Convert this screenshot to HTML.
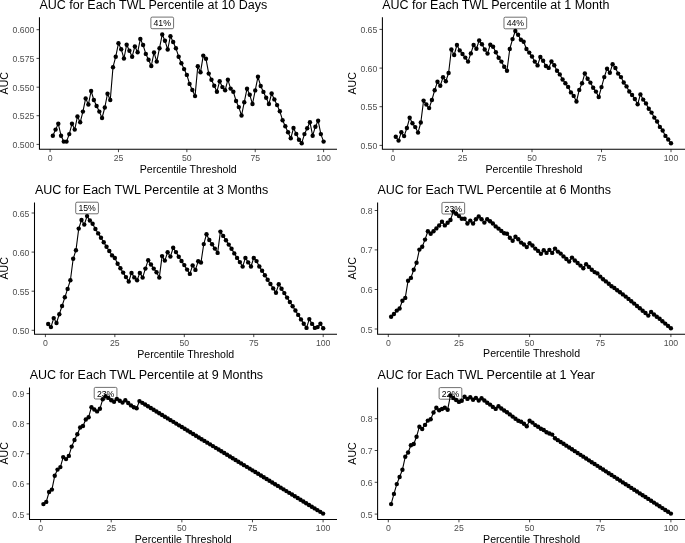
<!DOCTYPE html>
<html><head><meta charset="utf-8"><title>AUC for Each TWL Percentile</title>
<style>
html,body{margin:0;padding:0;background:#fff;overflow:hidden}
svg{display:block;will-change:transform}
text{font-family:"Liberation Sans", sans-serif}
</style></head>
<body>
<svg width="685" height="543" viewBox="0 0 685 543" font-family='"Liberation Sans", sans-serif'>
<rect width="685" height="543" fill="#fff"/>
<g><text x="39.4" y="8.76" font-size="12.5" fill="#000">AUC for Each TWL Percentile at 10 Days</text><line x1="36.55" y1="144.4" x2="39.45" y2="144.4" stroke="#333333" stroke-width="0.9"/><text x="34.35" y="147.9" font-size="8.7" fill="#4d4d4d" text-anchor="end">0.500</text><line x1="36.55" y1="115.7" x2="39.45" y2="115.7" stroke="#333333" stroke-width="0.9"/><text x="34.35" y="119.2" font-size="8.7" fill="#4d4d4d" text-anchor="end">0.525</text><line x1="36.55" y1="87.2" x2="39.45" y2="87.2" stroke="#333333" stroke-width="0.9"/><text x="34.35" y="90.7" font-size="8.7" fill="#4d4d4d" text-anchor="end">0.550</text><line x1="36.55" y1="58.4" x2="39.45" y2="58.4" stroke="#333333" stroke-width="0.9"/><text x="34.35" y="61.9" font-size="8.7" fill="#4d4d4d" text-anchor="end">0.575</text><line x1="36.55" y1="29.7" x2="39.45" y2="29.7" stroke="#333333" stroke-width="0.9"/><text x="34.35" y="33.2" font-size="8.7" fill="#4d4d4d" text-anchor="end">0.600</text><line x1="50.1" y1="149.25" x2="50.1" y2="152.15" stroke="#333333" stroke-width="0.9"/><text x="50.1" y="160.95" font-size="8.7" fill="#4d4d4d" text-anchor="middle">0</text><line x1="118.47" y1="149.25" x2="118.47" y2="152.15" stroke="#333333" stroke-width="0.9"/><text x="118.47" y="160.95" font-size="8.7" fill="#4d4d4d" text-anchor="middle">25</text><line x1="186.85" y1="149.25" x2="186.85" y2="152.15" stroke="#333333" stroke-width="0.9"/><text x="186.85" y="160.95" font-size="8.7" fill="#4d4d4d" text-anchor="middle">50</text><line x1="255.22" y1="149.25" x2="255.22" y2="152.15" stroke="#333333" stroke-width="0.9"/><text x="255.22" y="160.95" font-size="8.7" fill="#4d4d4d" text-anchor="middle">75</text><line x1="323.6" y1="149.25" x2="323.6" y2="152.15" stroke="#333333" stroke-width="0.9"/><text x="323.6" y="160.95" font-size="8.7" fill="#4d4d4d" text-anchor="middle">100</text><path d="M39.45 17.2V149.25H337" fill="none" stroke="#000" stroke-width="1.05" stroke-linejoin="miter" stroke-linecap="butt"/><text x="188.22" y="172.55" font-size="10.6" fill="#000" text-anchor="middle">Percentile Threshold</text><text transform="translate(7.9 83.22) rotate(-90)" font-size="10.6" fill="#000" text-anchor="middle">AUC</text><rect x="150.88" y="17.1" width="22.7" height="11.6" rx="1.3" ry="1.3" fill="#fff" stroke="#333" stroke-width="0.7"/><text transform="translate(162.23 26.3) scale(1 1.08)" font-size="8.7" fill="#000" text-anchor="middle">41%</text><path d="M52.84 135.7 L55.57 129.6 L58.3 123.8 L61.04 135.7 L63.77 141.6 L66.51 141.6 L69.25 134.1 L71.98 123.8 L74.72 129.6 L77.45 116.5 L80.19 122.3 L82.92 111.6 L85.66 98.4 L88.39 104.5 L91.12 91 L93.86 100 L96.59 106 L99.33 111.6 L102.06 118 L104.8 107.5 L107.53 93.7 L110.27 100 L113 67.2 L115.74 56.7 L118.47 43.3 L121.21 49.2 L123.94 58.5 L126.68 44.7 L129.41 50.8 L132.15 56.7 L134.88 46.4 L137.62 52.3 L140.35 38.9 L143.09 45 L145.82 53.9 L148.56 59.8 L151.29 66 L154.03 52.5 L156.76 61.6 L159.5 48.2 L162.23 34.5 L164.97 40.7 L167.7 49.5 L170.44 36.2 L173.17 42 L175.91 48.2 L178.64 56.7 L181.38 63.2 L184.11 69.1 L186.85 74.9 L189.58 83.9 L192.32 90 L195.05 96.1 L197.79 66.2 L200.52 72.2 L203.26 55.6 L205.99 58.8 L208.73 73.6 L211.46 79.7 L214.2 85.7 L216.93 91.7 L219.67 81.2 L222.4 87.1 L225.14 90.3 L227.88 79.7 L230.61 88.6 L233.34 91.7 L236.08 101 L238.81 107.1 L241.55 115.5 L244.28 102.2 L247.02 88.7 L249.75 94.8 L252.49 104 L255.22 90.4 L257.96 76.8 L260.69 86 L263.43 91.9 L266.17 97.8 L268.9 104 L271.63 93.5 L274.37 99.4 L277.11 105.1 L279.84 111.3 L282.57 120.2 L285.31 126.2 L288.05 132.3 L290.78 138.3 L293.51 128 L296.25 133.9 L298.99 139.8 L301.72 143.2 L304.45 134.1 L307.19 128.3 L309.93 122.2 L312.66 135.7 L315.4 126.7 L318.13 120.7 L320.87 134.1 L323.6 141.6" fill="none" stroke="#000" stroke-width="1.1" stroke-linejoin="round"/><g fill="#000"><circle cx="52.84" cy="135.7" r="2.2"/><circle cx="55.57" cy="129.6" r="2.2"/><circle cx="58.3" cy="123.8" r="2.2"/><circle cx="61.04" cy="135.7" r="2.2"/><circle cx="63.77" cy="141.6" r="2.2"/><circle cx="66.51" cy="141.6" r="2.2"/><circle cx="69.25" cy="134.1" r="2.2"/><circle cx="71.98" cy="123.8" r="2.2"/><circle cx="74.72" cy="129.6" r="2.2"/><circle cx="77.45" cy="116.5" r="2.2"/><circle cx="80.19" cy="122.3" r="2.2"/><circle cx="82.92" cy="111.6" r="2.2"/><circle cx="85.66" cy="98.4" r="2.2"/><circle cx="88.39" cy="104.5" r="2.2"/><circle cx="91.12" cy="91" r="2.2"/><circle cx="93.86" cy="100" r="2.2"/><circle cx="96.59" cy="106" r="2.2"/><circle cx="99.33" cy="111.6" r="2.2"/><circle cx="102.06" cy="118" r="2.2"/><circle cx="104.8" cy="107.5" r="2.2"/><circle cx="107.53" cy="93.7" r="2.2"/><circle cx="110.27" cy="100" r="2.2"/><circle cx="113" cy="67.2" r="2.2"/><circle cx="115.74" cy="56.7" r="2.2"/><circle cx="118.47" cy="43.3" r="2.2"/><circle cx="121.21" cy="49.2" r="2.2"/><circle cx="123.94" cy="58.5" r="2.2"/><circle cx="126.68" cy="44.7" r="2.2"/><circle cx="129.41" cy="50.8" r="2.2"/><circle cx="132.15" cy="56.7" r="2.2"/><circle cx="134.88" cy="46.4" r="2.2"/><circle cx="137.62" cy="52.3" r="2.2"/><circle cx="140.35" cy="38.9" r="2.2"/><circle cx="143.09" cy="45" r="2.2"/><circle cx="145.82" cy="53.9" r="2.2"/><circle cx="148.56" cy="59.8" r="2.2"/><circle cx="151.29" cy="66" r="2.2"/><circle cx="154.03" cy="52.5" r="2.2"/><circle cx="156.76" cy="61.6" r="2.2"/><circle cx="159.5" cy="48.2" r="2.2"/><circle cx="162.23" cy="34.5" r="2.2"/><circle cx="164.97" cy="40.7" r="2.2"/><circle cx="167.7" cy="49.5" r="2.2"/><circle cx="170.44" cy="36.2" r="2.2"/><circle cx="173.17" cy="42" r="2.2"/><circle cx="175.91" cy="48.2" r="2.2"/><circle cx="178.64" cy="56.7" r="2.2"/><circle cx="181.38" cy="63.2" r="2.2"/><circle cx="184.11" cy="69.1" r="2.2"/><circle cx="186.85" cy="74.9" r="2.2"/><circle cx="189.58" cy="83.9" r="2.2"/><circle cx="192.32" cy="90" r="2.2"/><circle cx="195.05" cy="96.1" r="2.2"/><circle cx="197.79" cy="66.2" r="2.2"/><circle cx="200.52" cy="72.2" r="2.2"/><circle cx="203.26" cy="55.6" r="2.2"/><circle cx="205.99" cy="58.8" r="2.2"/><circle cx="208.73" cy="73.6" r="2.2"/><circle cx="211.46" cy="79.7" r="2.2"/><circle cx="214.2" cy="85.7" r="2.2"/><circle cx="216.93" cy="91.7" r="2.2"/><circle cx="219.67" cy="81.2" r="2.2"/><circle cx="222.4" cy="87.1" r="2.2"/><circle cx="225.14" cy="90.3" r="2.2"/><circle cx="227.88" cy="79.7" r="2.2"/><circle cx="230.61" cy="88.6" r="2.2"/><circle cx="233.34" cy="91.7" r="2.2"/><circle cx="236.08" cy="101" r="2.2"/><circle cx="238.81" cy="107.1" r="2.2"/><circle cx="241.55" cy="115.5" r="2.2"/><circle cx="244.28" cy="102.2" r="2.2"/><circle cx="247.02" cy="88.7" r="2.2"/><circle cx="249.75" cy="94.8" r="2.2"/><circle cx="252.49" cy="104" r="2.2"/><circle cx="255.22" cy="90.4" r="2.2"/><circle cx="257.96" cy="76.8" r="2.2"/><circle cx="260.69" cy="86" r="2.2"/><circle cx="263.43" cy="91.9" r="2.2"/><circle cx="266.17" cy="97.8" r="2.2"/><circle cx="268.9" cy="104" r="2.2"/><circle cx="271.63" cy="93.5" r="2.2"/><circle cx="274.37" cy="99.4" r="2.2"/><circle cx="277.11" cy="105.1" r="2.2"/><circle cx="279.84" cy="111.3" r="2.2"/><circle cx="282.57" cy="120.2" r="2.2"/><circle cx="285.31" cy="126.2" r="2.2"/><circle cx="288.05" cy="132.3" r="2.2"/><circle cx="290.78" cy="138.3" r="2.2"/><circle cx="293.51" cy="128" r="2.2"/><circle cx="296.25" cy="133.9" r="2.2"/><circle cx="298.99" cy="139.8" r="2.2"/><circle cx="301.72" cy="143.2" r="2.2"/><circle cx="304.45" cy="134.1" r="2.2"/><circle cx="307.19" cy="128.3" r="2.2"/><circle cx="309.93" cy="122.2" r="2.2"/><circle cx="312.66" cy="135.7" r="2.2"/><circle cx="315.4" cy="126.7" r="2.2"/><circle cx="318.13" cy="120.7" r="2.2"/><circle cx="320.87" cy="134.1" r="2.2"/><circle cx="323.6" cy="141.6" r="2.2"/></g></g>
<g><text x="382.2" y="8.76" font-size="12.5" fill="#000">AUC for Each TWL Percentile at 1 Month</text><line x1="379.5" y1="145.4" x2="382.4" y2="145.4" stroke="#333333" stroke-width="0.9"/><text x="377.3" y="148.9" font-size="8.7" fill="#4d4d4d" text-anchor="end">0.50</text><line x1="379.5" y1="106.7" x2="382.4" y2="106.7" stroke="#333333" stroke-width="0.9"/><text x="377.3" y="110.2" font-size="8.7" fill="#4d4d4d" text-anchor="end">0.55</text><line x1="379.5" y1="68.1" x2="382.4" y2="68.1" stroke="#333333" stroke-width="0.9"/><text x="377.3" y="71.6" font-size="8.7" fill="#4d4d4d" text-anchor="end">0.60</text><line x1="379.5" y1="29.4" x2="382.4" y2="29.4" stroke="#333333" stroke-width="0.9"/><text x="377.3" y="32.9" font-size="8.7" fill="#4d4d4d" text-anchor="end">0.65</text><line x1="393" y1="149.25" x2="393" y2="152.15" stroke="#333333" stroke-width="0.9"/><text x="393" y="160.95" font-size="8.7" fill="#4d4d4d" text-anchor="middle">0</text><line x1="462.5" y1="149.25" x2="462.5" y2="152.15" stroke="#333333" stroke-width="0.9"/><text x="462.5" y="160.95" font-size="8.7" fill="#4d4d4d" text-anchor="middle">25</text><line x1="532" y1="149.25" x2="532" y2="152.15" stroke="#333333" stroke-width="0.9"/><text x="532" y="160.95" font-size="8.7" fill="#4d4d4d" text-anchor="middle">50</text><line x1="601.5" y1="149.25" x2="601.5" y2="152.15" stroke="#333333" stroke-width="0.9"/><text x="601.5" y="160.95" font-size="8.7" fill="#4d4d4d" text-anchor="middle">75</text><line x1="671" y1="149.25" x2="671" y2="152.15" stroke="#333333" stroke-width="0.9"/><text x="671" y="160.95" font-size="8.7" fill="#4d4d4d" text-anchor="middle">100</text><path d="M382.4 17.3V149.25H685.5" fill="none" stroke="#000" stroke-width="1.05" stroke-linejoin="miter" stroke-linecap="butt"/><text x="533.95" y="172.55" font-size="10.6" fill="#000" text-anchor="middle">Percentile Threshold</text><text transform="translate(355.8 83.28) rotate(-90)" font-size="10.6" fill="#000" text-anchor="middle">AUC</text><rect x="503.97" y="17.2" width="22.7" height="11.6" rx="1.3" ry="1.3" fill="#fff" stroke="#333" stroke-width="0.7"/><text transform="translate(515.32 26.4) scale(1 1.08)" font-size="8.7" fill="#000" text-anchor="middle">44%</text><path d="M395.78 136.7 L398.56 140.6 L401.34 132.2 L404.12 136.1 L406.9 128 L409.68 117.8 L412.46 123.2 L415.24 127.1 L418.02 132.6 L420.8 122.5 L423.58 100.6 L426.36 104.5 L429.14 108.1 L431.92 100 L434.7 90.2 L437.48 81.8 L440.26 85.8 L443.04 77.2 L445.82 81.2 L448.6 73 L451.38 49.5 L454.16 55 L456.94 45 L459.72 50.4 L462.5 54 L465.28 57.6 L468.06 61.6 L470.84 53.4 L473.62 45 L476.4 48.8 L479.18 40.5 L481.96 44.3 L484.74 49.5 L487.52 53.6 L490.3 44.7 L493.08 46.8 L495.86 52.2 L498.64 57.8 L501.42 61.6 L504.2 66.7 L506.98 70.7 L509.76 49 L512.54 39.1 L515.32 31 L518.1 34.8 L520.88 39.7 L523.66 41.7 L526.44 49 L529.22 52.6 L532 56.5 L534.78 61.6 L537.56 65.4 L540.34 57 L543.12 60.8 L545.9 66 L548.68 67.9 L551.46 61.5 L554.24 65.2 L557.02 70.8 L559.8 74.4 L562.58 79.5 L565.36 83.2 L568.14 86.9 L570.92 92.4 L573.7 95.9 L576.48 101.5 L579.26 89.9 L582.04 83.3 L584.82 73.4 L587.6 78.8 L590.38 82.6 L593.16 87.8 L595.94 91.6 L598.72 97 L601.5 87.1 L604.28 77.1 L607.06 68.7 L609.84 72.8 L612.62 64.2 L615.4 68 L618.18 73.6 L620.96 77.1 L623.74 82.5 L626.52 86.4 L629.3 91.5 L632.08 95 L634.86 99 L637.64 104.3 L640.42 94.4 L643.2 99.6 L645.98 103.4 L648.76 108.7 L651.54 112.6 L654.32 117.6 L657.1 121.5 L659.88 126.9 L662.66 130.5 L665.44 135.9 L668.22 139.5 L671 143.3" fill="none" stroke="#000" stroke-width="1.1" stroke-linejoin="round"/><g fill="#000"><circle cx="395.78" cy="136.7" r="2.2"/><circle cx="398.56" cy="140.6" r="2.2"/><circle cx="401.34" cy="132.2" r="2.2"/><circle cx="404.12" cy="136.1" r="2.2"/><circle cx="406.9" cy="128" r="2.2"/><circle cx="409.68" cy="117.8" r="2.2"/><circle cx="412.46" cy="123.2" r="2.2"/><circle cx="415.24" cy="127.1" r="2.2"/><circle cx="418.02" cy="132.6" r="2.2"/><circle cx="420.8" cy="122.5" r="2.2"/><circle cx="423.58" cy="100.6" r="2.2"/><circle cx="426.36" cy="104.5" r="2.2"/><circle cx="429.14" cy="108.1" r="2.2"/><circle cx="431.92" cy="100" r="2.2"/><circle cx="434.7" cy="90.2" r="2.2"/><circle cx="437.48" cy="81.8" r="2.2"/><circle cx="440.26" cy="85.8" r="2.2"/><circle cx="443.04" cy="77.2" r="2.2"/><circle cx="445.82" cy="81.2" r="2.2"/><circle cx="448.6" cy="73" r="2.2"/><circle cx="451.38" cy="49.5" r="2.2"/><circle cx="454.16" cy="55" r="2.2"/><circle cx="456.94" cy="45" r="2.2"/><circle cx="459.72" cy="50.4" r="2.2"/><circle cx="462.5" cy="54" r="2.2"/><circle cx="465.28" cy="57.6" r="2.2"/><circle cx="468.06" cy="61.6" r="2.2"/><circle cx="470.84" cy="53.4" r="2.2"/><circle cx="473.62" cy="45" r="2.2"/><circle cx="476.4" cy="48.8" r="2.2"/><circle cx="479.18" cy="40.5" r="2.2"/><circle cx="481.96" cy="44.3" r="2.2"/><circle cx="484.74" cy="49.5" r="2.2"/><circle cx="487.52" cy="53.6" r="2.2"/><circle cx="490.3" cy="44.7" r="2.2"/><circle cx="493.08" cy="46.8" r="2.2"/><circle cx="495.86" cy="52.2" r="2.2"/><circle cx="498.64" cy="57.8" r="2.2"/><circle cx="501.42" cy="61.6" r="2.2"/><circle cx="504.2" cy="66.7" r="2.2"/><circle cx="506.98" cy="70.7" r="2.2"/><circle cx="509.76" cy="49" r="2.2"/><circle cx="512.54" cy="39.1" r="2.2"/><circle cx="515.32" cy="31" r="2.2"/><circle cx="518.1" cy="34.8" r="2.2"/><circle cx="520.88" cy="39.7" r="2.2"/><circle cx="523.66" cy="41.7" r="2.2"/><circle cx="526.44" cy="49" r="2.2"/><circle cx="529.22" cy="52.6" r="2.2"/><circle cx="532" cy="56.5" r="2.2"/><circle cx="534.78" cy="61.6" r="2.2"/><circle cx="537.56" cy="65.4" r="2.2"/><circle cx="540.34" cy="57" r="2.2"/><circle cx="543.12" cy="60.8" r="2.2"/><circle cx="545.9" cy="66" r="2.2"/><circle cx="548.68" cy="67.9" r="2.2"/><circle cx="551.46" cy="61.5" r="2.2"/><circle cx="554.24" cy="65.2" r="2.2"/><circle cx="557.02" cy="70.8" r="2.2"/><circle cx="559.8" cy="74.4" r="2.2"/><circle cx="562.58" cy="79.5" r="2.2"/><circle cx="565.36" cy="83.2" r="2.2"/><circle cx="568.14" cy="86.9" r="2.2"/><circle cx="570.92" cy="92.4" r="2.2"/><circle cx="573.7" cy="95.9" r="2.2"/><circle cx="576.48" cy="101.5" r="2.2"/><circle cx="579.26" cy="89.9" r="2.2"/><circle cx="582.04" cy="83.3" r="2.2"/><circle cx="584.82" cy="73.4" r="2.2"/><circle cx="587.6" cy="78.8" r="2.2"/><circle cx="590.38" cy="82.6" r="2.2"/><circle cx="593.16" cy="87.8" r="2.2"/><circle cx="595.94" cy="91.6" r="2.2"/><circle cx="598.72" cy="97" r="2.2"/><circle cx="601.5" cy="87.1" r="2.2"/><circle cx="604.28" cy="77.1" r="2.2"/><circle cx="607.06" cy="68.7" r="2.2"/><circle cx="609.84" cy="72.8" r="2.2"/><circle cx="612.62" cy="64.2" r="2.2"/><circle cx="615.4" cy="68" r="2.2"/><circle cx="618.18" cy="73.6" r="2.2"/><circle cx="620.96" cy="77.1" r="2.2"/><circle cx="623.74" cy="82.5" r="2.2"/><circle cx="626.52" cy="86.4" r="2.2"/><circle cx="629.3" cy="91.5" r="2.2"/><circle cx="632.08" cy="95" r="2.2"/><circle cx="634.86" cy="99" r="2.2"/><circle cx="637.64" cy="104.3" r="2.2"/><circle cx="640.42" cy="94.4" r="2.2"/><circle cx="643.2" cy="99.6" r="2.2"/><circle cx="645.98" cy="103.4" r="2.2"/><circle cx="648.76" cy="108.7" r="2.2"/><circle cx="651.54" cy="112.6" r="2.2"/><circle cx="654.32" cy="117.6" r="2.2"/><circle cx="657.1" cy="121.5" r="2.2"/><circle cx="659.88" cy="126.9" r="2.2"/><circle cx="662.66" cy="130.5" r="2.2"/><circle cx="665.44" cy="135.9" r="2.2"/><circle cx="668.22" cy="139.5" r="2.2"/><circle cx="671" cy="143.3" r="2.2"/></g></g>
<g><text x="34.9" y="194.3" font-size="12.5" fill="#000">AUC for Each TWL Percentile at 3 Months</text><line x1="31.6" y1="330.3" x2="34.5" y2="330.3" stroke="#333333" stroke-width="0.9"/><text x="29.4" y="333.8" font-size="8.7" fill="#4d4d4d" text-anchor="end">0.50</text><line x1="31.6" y1="291.2" x2="34.5" y2="291.2" stroke="#333333" stroke-width="0.9"/><text x="29.4" y="294.7" font-size="8.7" fill="#4d4d4d" text-anchor="end">0.55</text><line x1="31.6" y1="252.1" x2="34.5" y2="252.1" stroke="#333333" stroke-width="0.9"/><text x="29.4" y="255.6" font-size="8.7" fill="#4d4d4d" text-anchor="end">0.60</text><line x1="31.6" y1="213" x2="34.5" y2="213" stroke="#333333" stroke-width="0.9"/><text x="29.4" y="216.5" font-size="8.7" fill="#4d4d4d" text-anchor="end">0.65</text><line x1="45.4" y1="334.2" x2="45.4" y2="337.1" stroke="#333333" stroke-width="0.9"/><text x="45.4" y="345.9" font-size="8.7" fill="#4d4d4d" text-anchor="middle">0</text><line x1="114.85" y1="334.2" x2="114.85" y2="337.1" stroke="#333333" stroke-width="0.9"/><text x="114.85" y="345.9" font-size="8.7" fill="#4d4d4d" text-anchor="middle">25</text><line x1="184.3" y1="334.2" x2="184.3" y2="337.1" stroke="#333333" stroke-width="0.9"/><text x="184.3" y="345.9" font-size="8.7" fill="#4d4d4d" text-anchor="middle">50</text><line x1="253.75" y1="334.2" x2="253.75" y2="337.1" stroke="#333333" stroke-width="0.9"/><text x="253.75" y="345.9" font-size="8.7" fill="#4d4d4d" text-anchor="middle">75</text><line x1="323.2" y1="334.2" x2="323.2" y2="337.1" stroke="#333333" stroke-width="0.9"/><text x="323.2" y="345.9" font-size="8.7" fill="#4d4d4d" text-anchor="middle">100</text><path d="M34.5 202.4V334.2H337" fill="none" stroke="#000" stroke-width="1.05" stroke-linejoin="miter" stroke-linecap="butt"/><text x="185.75" y="357.5" font-size="10.6" fill="#000" text-anchor="middle">Percentile Threshold</text><text transform="translate(7.9 268.3) rotate(-90)" font-size="10.6" fill="#000" text-anchor="middle">AUC</text><rect x="75.72" y="202.2" width="22.7" height="11.6" rx="1.3" ry="1.3" fill="#fff" stroke="#333" stroke-width="0.7"/><text transform="translate(87.07 211.4) scale(1 1.08)" font-size="8.7" fill="#000" text-anchor="middle">15%</text><path d="M48.18 324 L50.96 327.1 L53.73 318.1 L56.51 323 L59.29 314.2 L62.07 306 L64.85 297.3 L67.62 288.9 L70.4 280.2 L73.18 258.8 L75.96 250.2 L78.74 228.6 L81.51 220 L84.29 224.6 L87.07 216.1 L89.85 220.5 L92.63 223.7 L95.4 229 L98.18 233.4 L100.96 237.7 L103.74 242.3 L106.52 246.7 L109.29 251 L112.07 255.4 L114.85 258 L117.63 263.8 L120.41 268.2 L123.18 272.6 L125.96 277.1 L128.74 281.5 L131.52 272.9 L134.3 277.4 L137.07 280.2 L139.85 272.9 L142.63 277.6 L145.41 268.6 L148.19 260.2 L150.96 264.5 L153.74 268.6 L156.52 272.2 L159.3 277.6 L162.08 256.1 L164.85 260.6 L167.63 252.2 L170.41 256.6 L173.19 247.8 L175.97 252.1 L178.74 256.7 L181.52 261 L184.3 265.1 L187.08 269.6 L189.86 273.9 L192.63 265.4 L195.41 269.9 L198.19 261.3 L200.97 262.5 L203.75 244.1 L206.52 234.2 L209.3 240 L212.08 244.2 L214.86 248.6 L217.64 252.9 L220.41 231.6 L223.19 235.9 L225.97 240.2 L228.75 244.6 L231.53 248.8 L234.3 253.4 L237.08 257.9 L239.86 262.1 L242.64 266.6 L245.42 257.9 L248.19 262.4 L250.97 266.5 L253.75 257.9 L256.53 261.1 L259.31 266.5 L262.08 270.8 L264.86 275.3 L267.64 279.8 L270.42 284 L273.2 288.4 L275.97 292.7 L278.75 284.3 L281.53 288.8 L284.31 293.1 L287.09 297.6 L289.86 302 L292.64 306.3 L295.42 310.5 L298.2 314.9 L300.98 319.4 L303.75 323.7 L306.53 327.9 L309.31 319.1 L312.09 323.9 L314.87 327.9 L317.64 327.1 L320.42 323.7 L323.2 328.2" fill="none" stroke="#000" stroke-width="1.1" stroke-linejoin="round"/><g fill="#000"><circle cx="48.18" cy="324" r="2.2"/><circle cx="50.96" cy="327.1" r="2.2"/><circle cx="53.73" cy="318.1" r="2.2"/><circle cx="56.51" cy="323" r="2.2"/><circle cx="59.29" cy="314.2" r="2.2"/><circle cx="62.07" cy="306" r="2.2"/><circle cx="64.85" cy="297.3" r="2.2"/><circle cx="67.62" cy="288.9" r="2.2"/><circle cx="70.4" cy="280.2" r="2.2"/><circle cx="73.18" cy="258.8" r="2.2"/><circle cx="75.96" cy="250.2" r="2.2"/><circle cx="78.74" cy="228.6" r="2.2"/><circle cx="81.51" cy="220" r="2.2"/><circle cx="84.29" cy="224.6" r="2.2"/><circle cx="87.07" cy="216.1" r="2.2"/><circle cx="89.85" cy="220.5" r="2.2"/><circle cx="92.63" cy="223.7" r="2.2"/><circle cx="95.4" cy="229" r="2.2"/><circle cx="98.18" cy="233.4" r="2.2"/><circle cx="100.96" cy="237.7" r="2.2"/><circle cx="103.74" cy="242.3" r="2.2"/><circle cx="106.52" cy="246.7" r="2.2"/><circle cx="109.29" cy="251" r="2.2"/><circle cx="112.07" cy="255.4" r="2.2"/><circle cx="114.85" cy="258" r="2.2"/><circle cx="117.63" cy="263.8" r="2.2"/><circle cx="120.41" cy="268.2" r="2.2"/><circle cx="123.18" cy="272.6" r="2.2"/><circle cx="125.96" cy="277.1" r="2.2"/><circle cx="128.74" cy="281.5" r="2.2"/><circle cx="131.52" cy="272.9" r="2.2"/><circle cx="134.3" cy="277.4" r="2.2"/><circle cx="137.07" cy="280.2" r="2.2"/><circle cx="139.85" cy="272.9" r="2.2"/><circle cx="142.63" cy="277.6" r="2.2"/><circle cx="145.41" cy="268.6" r="2.2"/><circle cx="148.19" cy="260.2" r="2.2"/><circle cx="150.96" cy="264.5" r="2.2"/><circle cx="153.74" cy="268.6" r="2.2"/><circle cx="156.52" cy="272.2" r="2.2"/><circle cx="159.3" cy="277.6" r="2.2"/><circle cx="162.08" cy="256.1" r="2.2"/><circle cx="164.85" cy="260.6" r="2.2"/><circle cx="167.63" cy="252.2" r="2.2"/><circle cx="170.41" cy="256.6" r="2.2"/><circle cx="173.19" cy="247.8" r="2.2"/><circle cx="175.97" cy="252.1" r="2.2"/><circle cx="178.74" cy="256.7" r="2.2"/><circle cx="181.52" cy="261" r="2.2"/><circle cx="184.3" cy="265.1" r="2.2"/><circle cx="187.08" cy="269.6" r="2.2"/><circle cx="189.86" cy="273.9" r="2.2"/><circle cx="192.63" cy="265.4" r="2.2"/><circle cx="195.41" cy="269.9" r="2.2"/><circle cx="198.19" cy="261.3" r="2.2"/><circle cx="200.97" cy="262.5" r="2.2"/><circle cx="203.75" cy="244.1" r="2.2"/><circle cx="206.52" cy="234.2" r="2.2"/><circle cx="209.3" cy="240" r="2.2"/><circle cx="212.08" cy="244.2" r="2.2"/><circle cx="214.86" cy="248.6" r="2.2"/><circle cx="217.64" cy="252.9" r="2.2"/><circle cx="220.41" cy="231.6" r="2.2"/><circle cx="223.19" cy="235.9" r="2.2"/><circle cx="225.97" cy="240.2" r="2.2"/><circle cx="228.75" cy="244.6" r="2.2"/><circle cx="231.53" cy="248.8" r="2.2"/><circle cx="234.3" cy="253.4" r="2.2"/><circle cx="237.08" cy="257.9" r="2.2"/><circle cx="239.86" cy="262.1" r="2.2"/><circle cx="242.64" cy="266.6" r="2.2"/><circle cx="245.42" cy="257.9" r="2.2"/><circle cx="248.19" cy="262.4" r="2.2"/><circle cx="250.97" cy="266.5" r="2.2"/><circle cx="253.75" cy="257.9" r="2.2"/><circle cx="256.53" cy="261.1" r="2.2"/><circle cx="259.31" cy="266.5" r="2.2"/><circle cx="262.08" cy="270.8" r="2.2"/><circle cx="264.86" cy="275.3" r="2.2"/><circle cx="267.64" cy="279.8" r="2.2"/><circle cx="270.42" cy="284" r="2.2"/><circle cx="273.2" cy="288.4" r="2.2"/><circle cx="275.97" cy="292.7" r="2.2"/><circle cx="278.75" cy="284.3" r="2.2"/><circle cx="281.53" cy="288.8" r="2.2"/><circle cx="284.31" cy="293.1" r="2.2"/><circle cx="287.09" cy="297.6" r="2.2"/><circle cx="289.86" cy="302" r="2.2"/><circle cx="292.64" cy="306.3" r="2.2"/><circle cx="295.42" cy="310.5" r="2.2"/><circle cx="298.2" cy="314.9" r="2.2"/><circle cx="300.98" cy="319.4" r="2.2"/><circle cx="303.75" cy="323.7" r="2.2"/><circle cx="306.53" cy="327.9" r="2.2"/><circle cx="309.31" cy="319.1" r="2.2"/><circle cx="312.09" cy="323.9" r="2.2"/><circle cx="314.87" cy="327.9" r="2.2"/><circle cx="317.64" cy="327.1" r="2.2"/><circle cx="320.42" cy="323.7" r="2.2"/><circle cx="323.2" cy="328.2" r="2.2"/></g></g>
<g><text x="377.5" y="194.2" font-size="12.5" fill="#000">AUC for Each TWL Percentile at 6 Months</text><line x1="374.7" y1="329" x2="377.6" y2="329" stroke="#333333" stroke-width="0.9"/><text x="372.5" y="332.5" font-size="8.7" fill="#4d4d4d" text-anchor="end">0.5</text><line x1="374.7" y1="289.5" x2="377.6" y2="289.5" stroke="#333333" stroke-width="0.9"/><text x="372.5" y="293" font-size="8.7" fill="#4d4d4d" text-anchor="end">0.6</text><line x1="374.7" y1="249.9" x2="377.6" y2="249.9" stroke="#333333" stroke-width="0.9"/><text x="372.5" y="253.4" font-size="8.7" fill="#4d4d4d" text-anchor="end">0.7</text><line x1="374.7" y1="210.5" x2="377.6" y2="210.5" stroke="#333333" stroke-width="0.9"/><text x="372.5" y="214" font-size="8.7" fill="#4d4d4d" text-anchor="end">0.8</text><line x1="388.3" y1="334.15" x2="388.3" y2="337.05" stroke="#333333" stroke-width="0.9"/><text x="388.3" y="345.85" font-size="8.7" fill="#4d4d4d" text-anchor="middle">0</text><line x1="458.95" y1="334.15" x2="458.95" y2="337.05" stroke="#333333" stroke-width="0.9"/><text x="458.95" y="345.85" font-size="8.7" fill="#4d4d4d" text-anchor="middle">25</text><line x1="529.6" y1="334.15" x2="529.6" y2="337.05" stroke="#333333" stroke-width="0.9"/><text x="529.6" y="345.85" font-size="8.7" fill="#4d4d4d" text-anchor="middle">50</text><line x1="600.25" y1="334.15" x2="600.25" y2="337.05" stroke="#333333" stroke-width="0.9"/><text x="600.25" y="345.85" font-size="8.7" fill="#4d4d4d" text-anchor="middle">75</text><line x1="670.9" y1="334.15" x2="670.9" y2="337.05" stroke="#333333" stroke-width="0.9"/><text x="670.9" y="345.85" font-size="8.7" fill="#4d4d4d" text-anchor="middle">100</text><path d="M377.6 202.4V334.15H685.5" fill="none" stroke="#000" stroke-width="1.05" stroke-linejoin="miter" stroke-linecap="butt"/><text x="531.55" y="357.45" font-size="10.6" fill="#000" text-anchor="middle">Percentile Threshold</text><text transform="translate(355.8 268.27) rotate(-90)" font-size="10.6" fill="#000" text-anchor="middle">AUC</text><rect x="441.95" y="202.4" width="22.7" height="11.6" rx="1.3" ry="1.3" fill="#fff" stroke="#333" stroke-width="0.7"/><text transform="translate(453.3 211.6) scale(1 1.08)" font-size="8.7" fill="#000" text-anchor="middle">23%</text><path d="M391.13 316.8 L393.95 314 L396.78 310.6 L399.6 308.5 L402.43 300.8 L405.26 297.9 L408.08 280.7 L410.91 277.9 L413.73 269.7 L416.56 262.8 L419.39 249.6 L422.21 246.7 L425.04 239.6 L427.86 231.3 L430.69 233.8 L433.52 231.2 L436.34 228.4 L439.17 225.5 L441.99 221.7 L444.82 225.4 L447.65 222.8 L450.47 220 L453.3 211.6 L456.12 213.7 L458.95 216.1 L461.78 218.7 L464.6 218.7 L467.43 223.5 L470.25 220.6 L473.08 223.5 L475.91 219.3 L478.73 216.5 L481.56 219.3 L484.38 222.6 L487.21 219.3 L490.04 221.3 L492.86 223.5 L495.69 226.4 L498.51 228.6 L501.34 230.9 L504.17 233.3 L506.99 233.8 L509.82 237.8 L512.64 240.8 L515.47 236.8 L518.3 239.3 L521.12 242.6 L523.95 244.5 L526.77 247.1 L529.6 243.2 L532.43 245.5 L535.25 248.6 L538.08 250.9 L540.9 253.8 L543.73 250.3 L546.56 252.9 L549.38 249.9 L552.21 252.9 L555.03 248.6 L557.86 251.6 L560.69 253.6 L563.51 256.4 L566.34 259 L569.16 261.5 L571.99 257.6 L574.82 260.5 L577.64 263 L580.47 265.6 L583.29 268.2 L586.12 264.3 L588.95 266.9 L591.77 269.8 L594.6 272.1 L597.42 273.4 L600.25 276.6 L603.08 279.2 L605.9 281.4 L608.73 283.7 L611.55 286.3 L614.38 288 L617.21 290.2 L620.03 292.2 L622.86 294.4 L625.68 296.6 L628.51 298.9 L631.34 301.2 L634.16 303.6 L636.99 306 L639.81 308.3 L642.64 310.7 L645.47 313 L648.29 315.6 L651.12 311.9 L653.94 314.5 L656.77 316.8 L659.6 318.8 L662.42 321.3 L665.25 323.6 L668.07 325.9 L670.9 328.3" fill="none" stroke="#000" stroke-width="1.1" stroke-linejoin="round"/><g fill="#000"><circle cx="391.13" cy="316.8" r="2.2"/><circle cx="393.95" cy="314" r="2.2"/><circle cx="396.78" cy="310.6" r="2.2"/><circle cx="399.6" cy="308.5" r="2.2"/><circle cx="402.43" cy="300.8" r="2.2"/><circle cx="405.26" cy="297.9" r="2.2"/><circle cx="408.08" cy="280.7" r="2.2"/><circle cx="410.91" cy="277.9" r="2.2"/><circle cx="413.73" cy="269.7" r="2.2"/><circle cx="416.56" cy="262.8" r="2.2"/><circle cx="419.39" cy="249.6" r="2.2"/><circle cx="422.21" cy="246.7" r="2.2"/><circle cx="425.04" cy="239.6" r="2.2"/><circle cx="427.86" cy="231.3" r="2.2"/><circle cx="430.69" cy="233.8" r="2.2"/><circle cx="433.52" cy="231.2" r="2.2"/><circle cx="436.34" cy="228.4" r="2.2"/><circle cx="439.17" cy="225.5" r="2.2"/><circle cx="441.99" cy="221.7" r="2.2"/><circle cx="444.82" cy="225.4" r="2.2"/><circle cx="447.65" cy="222.8" r="2.2"/><circle cx="450.47" cy="220" r="2.2"/><circle cx="453.3" cy="211.6" r="2.2"/><circle cx="456.12" cy="213.7" r="2.2"/><circle cx="458.95" cy="216.1" r="2.2"/><circle cx="461.78" cy="218.7" r="2.2"/><circle cx="464.6" cy="218.7" r="2.2"/><circle cx="467.43" cy="223.5" r="2.2"/><circle cx="470.25" cy="220.6" r="2.2"/><circle cx="473.08" cy="223.5" r="2.2"/><circle cx="475.91" cy="219.3" r="2.2"/><circle cx="478.73" cy="216.5" r="2.2"/><circle cx="481.56" cy="219.3" r="2.2"/><circle cx="484.38" cy="222.6" r="2.2"/><circle cx="487.21" cy="219.3" r="2.2"/><circle cx="490.04" cy="221.3" r="2.2"/><circle cx="492.86" cy="223.5" r="2.2"/><circle cx="495.69" cy="226.4" r="2.2"/><circle cx="498.51" cy="228.6" r="2.2"/><circle cx="501.34" cy="230.9" r="2.2"/><circle cx="504.17" cy="233.3" r="2.2"/><circle cx="506.99" cy="233.8" r="2.2"/><circle cx="509.82" cy="237.8" r="2.2"/><circle cx="512.64" cy="240.8" r="2.2"/><circle cx="515.47" cy="236.8" r="2.2"/><circle cx="518.3" cy="239.3" r="2.2"/><circle cx="521.12" cy="242.6" r="2.2"/><circle cx="523.95" cy="244.5" r="2.2"/><circle cx="526.77" cy="247.1" r="2.2"/><circle cx="529.6" cy="243.2" r="2.2"/><circle cx="532.43" cy="245.5" r="2.2"/><circle cx="535.25" cy="248.6" r="2.2"/><circle cx="538.08" cy="250.9" r="2.2"/><circle cx="540.9" cy="253.8" r="2.2"/><circle cx="543.73" cy="250.3" r="2.2"/><circle cx="546.56" cy="252.9" r="2.2"/><circle cx="549.38" cy="249.9" r="2.2"/><circle cx="552.21" cy="252.9" r="2.2"/><circle cx="555.03" cy="248.6" r="2.2"/><circle cx="557.86" cy="251.6" r="2.2"/><circle cx="560.69" cy="253.6" r="2.2"/><circle cx="563.51" cy="256.4" r="2.2"/><circle cx="566.34" cy="259" r="2.2"/><circle cx="569.16" cy="261.5" r="2.2"/><circle cx="571.99" cy="257.6" r="2.2"/><circle cx="574.82" cy="260.5" r="2.2"/><circle cx="577.64" cy="263" r="2.2"/><circle cx="580.47" cy="265.6" r="2.2"/><circle cx="583.29" cy="268.2" r="2.2"/><circle cx="586.12" cy="264.3" r="2.2"/><circle cx="588.95" cy="266.9" r="2.2"/><circle cx="591.77" cy="269.8" r="2.2"/><circle cx="594.6" cy="272.1" r="2.2"/><circle cx="597.42" cy="273.4" r="2.2"/><circle cx="600.25" cy="276.6" r="2.2"/><circle cx="603.08" cy="279.2" r="2.2"/><circle cx="605.9" cy="281.4" r="2.2"/><circle cx="608.73" cy="283.7" r="2.2"/><circle cx="611.55" cy="286.3" r="2.2"/><circle cx="614.38" cy="288" r="2.2"/><circle cx="617.21" cy="290.2" r="2.2"/><circle cx="620.03" cy="292.2" r="2.2"/><circle cx="622.86" cy="294.4" r="2.2"/><circle cx="625.68" cy="296.6" r="2.2"/><circle cx="628.51" cy="298.9" r="2.2"/><circle cx="631.34" cy="301.2" r="2.2"/><circle cx="634.16" cy="303.6" r="2.2"/><circle cx="636.99" cy="306" r="2.2"/><circle cx="639.81" cy="308.3" r="2.2"/><circle cx="642.64" cy="310.7" r="2.2"/><circle cx="645.47" cy="313" r="2.2"/><circle cx="648.29" cy="315.6" r="2.2"/><circle cx="651.12" cy="311.9" r="2.2"/><circle cx="653.94" cy="314.5" r="2.2"/><circle cx="656.77" cy="316.8" r="2.2"/><circle cx="659.6" cy="318.8" r="2.2"/><circle cx="662.42" cy="321.3" r="2.2"/><circle cx="665.25" cy="323.6" r="2.2"/><circle cx="668.07" cy="325.9" r="2.2"/><circle cx="670.9" cy="328.3" r="2.2"/></g></g>
<g><text x="29.7" y="379.2" font-size="12.5" fill="#000">AUC for Each TWL Percentile at 9 Months</text><line x1="26.6" y1="514.1" x2="29.5" y2="514.1" stroke="#333333" stroke-width="0.9"/><text x="24.4" y="517.6" font-size="8.7" fill="#4d4d4d" text-anchor="end">0.5</text><line x1="26.6" y1="483.9" x2="29.5" y2="483.9" stroke="#333333" stroke-width="0.9"/><text x="24.4" y="487.4" font-size="8.7" fill="#4d4d4d" text-anchor="end">0.6</text><line x1="26.6" y1="453.8" x2="29.5" y2="453.8" stroke="#333333" stroke-width="0.9"/><text x="24.4" y="457.3" font-size="8.7" fill="#4d4d4d" text-anchor="end">0.7</text><line x1="26.6" y1="423.7" x2="29.5" y2="423.7" stroke="#333333" stroke-width="0.9"/><text x="24.4" y="427.2" font-size="8.7" fill="#4d4d4d" text-anchor="end">0.8</text><line x1="26.6" y1="393.6" x2="29.5" y2="393.6" stroke="#333333" stroke-width="0.9"/><text x="24.4" y="397.1" font-size="8.7" fill="#4d4d4d" text-anchor="end">0.9</text><line x1="40.6" y1="519.4" x2="40.6" y2="522.3" stroke="#333333" stroke-width="0.9"/><text x="40.6" y="531.1" font-size="8.7" fill="#4d4d4d" text-anchor="middle">0</text><line x1="111.22" y1="519.4" x2="111.22" y2="522.3" stroke="#333333" stroke-width="0.9"/><text x="111.22" y="531.1" font-size="8.7" fill="#4d4d4d" text-anchor="middle">25</text><line x1="181.85" y1="519.4" x2="181.85" y2="522.3" stroke="#333333" stroke-width="0.9"/><text x="181.85" y="531.1" font-size="8.7" fill="#4d4d4d" text-anchor="middle">50</text><line x1="252.47" y1="519.4" x2="252.47" y2="522.3" stroke="#333333" stroke-width="0.9"/><text x="252.47" y="531.1" font-size="8.7" fill="#4d4d4d" text-anchor="middle">75</text><line x1="323.1" y1="519.4" x2="323.1" y2="522.3" stroke="#333333" stroke-width="0.9"/><text x="323.1" y="531.1" font-size="8.7" fill="#4d4d4d" text-anchor="middle">100</text><path d="M29.5 387.4V519.4H337" fill="none" stroke="#000" stroke-width="1.05" stroke-linejoin="miter" stroke-linecap="butt"/><text x="183.25" y="542.7" font-size="10.6" fill="#000" text-anchor="middle">Percentile Threshold</text><text transform="translate(7.9 453.4) rotate(-90)" font-size="10.6" fill="#000" text-anchor="middle">AUC</text><rect x="94.23" y="387.4" width="22.7" height="11.6" rx="1.3" ry="1.3" fill="#fff" stroke="#333" stroke-width="0.7"/><text transform="translate(105.58 396.6) scale(1 1.08)" font-size="8.7" fill="#000" text-anchor="middle">23%</text><path d="M43.43 504.1 L46.25 501.9 L49.08 492 L51.9 489.6 L54.73 475.8 L57.55 469.6 L60.38 467.1 L63.2 457.1 L66.03 459.1 L68.85 455.9 L71.68 446.6 L74.5 440 L77.33 434.2 L80.15 427.5 L82.97 426 L85.8 419.5 L88.62 417.2 L91.45 407.2 L94.28 409.5 L97.1 411.4 L99.93 408.8 L102.75 399.2 L105.58 396.3 L108.4 397.9 L111.22 400.2 L114.05 401.8 L116.88 398.9 L119.7 400.7 L122.53 402.6 L125.35 400.2 L128.18 403 L131 405.4 L133.83 407.2 L136.65 408.2 L139.47 401.1 L142.3 402.83 L145.12 404.56 L147.95 406.29 L150.78 408.02 L153.6 409.75 L156.43 411.48 L159.25 413.22 L162.08 414.95 L164.9 416.68 L167.73 418.41 L170.55 420.14 L173.38 421.87 L176.2 423.6 L179.03 425.33 L181.85 427.06 L184.68 428.79 L187.5 430.52 L190.33 432.25 L193.15 433.98 L195.97 435.72 L198.8 437.45 L201.62 439.18 L204.45 440.91 L207.28 442.64 L210.1 444.37 L212.93 446.1 L215.75 447.83 L218.58 449.56 L221.4 451.29 L224.22 453.02 L227.05 454.75 L229.88 456.48 L232.7 458.22 L235.53 459.95 L238.35 461.68 L241.18 463.41 L244 465.14 L246.83 466.87 L249.65 468.6 L252.47 470.33 L255.3 472.06 L258.12 473.79 L260.95 475.52 L263.78 477.25 L266.6 478.98 L269.43 480.72 L272.25 482.45 L275.08 484.18 L277.9 485.91 L280.73 487.64 L283.55 489.37 L286.38 491.1 L289.2 492.83 L292.03 494.56 L294.85 496.29 L297.68 498.02 L300.5 499.75 L303.33 501.48 L306.15 503.22 L308.98 504.95 L311.8 506.68 L314.63 508.41 L317.45 510.14 L320.28 511.87 L323.1 513.6" fill="none" stroke="#000" stroke-width="1.1" stroke-linejoin="round"/><g fill="#000"><circle cx="43.43" cy="504.1" r="2.2"/><circle cx="46.25" cy="501.9" r="2.2"/><circle cx="49.08" cy="492" r="2.2"/><circle cx="51.9" cy="489.6" r="2.2"/><circle cx="54.73" cy="475.8" r="2.2"/><circle cx="57.55" cy="469.6" r="2.2"/><circle cx="60.38" cy="467.1" r="2.2"/><circle cx="63.2" cy="457.1" r="2.2"/><circle cx="66.03" cy="459.1" r="2.2"/><circle cx="68.85" cy="455.9" r="2.2"/><circle cx="71.68" cy="446.6" r="2.2"/><circle cx="74.5" cy="440" r="2.2"/><circle cx="77.33" cy="434.2" r="2.2"/><circle cx="80.15" cy="427.5" r="2.2"/><circle cx="82.97" cy="426" r="2.2"/><circle cx="85.8" cy="419.5" r="2.2"/><circle cx="88.62" cy="417.2" r="2.2"/><circle cx="91.45" cy="407.2" r="2.2"/><circle cx="94.28" cy="409.5" r="2.2"/><circle cx="97.1" cy="411.4" r="2.2"/><circle cx="99.93" cy="408.8" r="2.2"/><circle cx="102.75" cy="399.2" r="2.2"/><circle cx="105.58" cy="396.3" r="2.2"/><circle cx="108.4" cy="397.9" r="2.2"/><circle cx="111.22" cy="400.2" r="2.2"/><circle cx="114.05" cy="401.8" r="2.2"/><circle cx="116.88" cy="398.9" r="2.2"/><circle cx="119.7" cy="400.7" r="2.2"/><circle cx="122.53" cy="402.6" r="2.2"/><circle cx="125.35" cy="400.2" r="2.2"/><circle cx="128.18" cy="403" r="2.2"/><circle cx="131" cy="405.4" r="2.2"/><circle cx="133.83" cy="407.2" r="2.2"/><circle cx="136.65" cy="408.2" r="2.2"/><circle cx="139.47" cy="401.1" r="2.2"/><circle cx="142.3" cy="402.83" r="2.2"/><circle cx="145.12" cy="404.56" r="2.2"/><circle cx="147.95" cy="406.29" r="2.2"/><circle cx="150.78" cy="408.02" r="2.2"/><circle cx="153.6" cy="409.75" r="2.2"/><circle cx="156.43" cy="411.48" r="2.2"/><circle cx="159.25" cy="413.22" r="2.2"/><circle cx="162.08" cy="414.95" r="2.2"/><circle cx="164.9" cy="416.68" r="2.2"/><circle cx="167.73" cy="418.41" r="2.2"/><circle cx="170.55" cy="420.14" r="2.2"/><circle cx="173.38" cy="421.87" r="2.2"/><circle cx="176.2" cy="423.6" r="2.2"/><circle cx="179.03" cy="425.33" r="2.2"/><circle cx="181.85" cy="427.06" r="2.2"/><circle cx="184.68" cy="428.79" r="2.2"/><circle cx="187.5" cy="430.52" r="2.2"/><circle cx="190.33" cy="432.25" r="2.2"/><circle cx="193.15" cy="433.98" r="2.2"/><circle cx="195.97" cy="435.72" r="2.2"/><circle cx="198.8" cy="437.45" r="2.2"/><circle cx="201.62" cy="439.18" r="2.2"/><circle cx="204.45" cy="440.91" r="2.2"/><circle cx="207.28" cy="442.64" r="2.2"/><circle cx="210.1" cy="444.37" r="2.2"/><circle cx="212.93" cy="446.1" r="2.2"/><circle cx="215.75" cy="447.83" r="2.2"/><circle cx="218.58" cy="449.56" r="2.2"/><circle cx="221.4" cy="451.29" r="2.2"/><circle cx="224.22" cy="453.02" r="2.2"/><circle cx="227.05" cy="454.75" r="2.2"/><circle cx="229.88" cy="456.48" r="2.2"/><circle cx="232.7" cy="458.22" r="2.2"/><circle cx="235.53" cy="459.95" r="2.2"/><circle cx="238.35" cy="461.68" r="2.2"/><circle cx="241.18" cy="463.41" r="2.2"/><circle cx="244" cy="465.14" r="2.2"/><circle cx="246.83" cy="466.87" r="2.2"/><circle cx="249.65" cy="468.6" r="2.2"/><circle cx="252.47" cy="470.33" r="2.2"/><circle cx="255.3" cy="472.06" r="2.2"/><circle cx="258.12" cy="473.79" r="2.2"/><circle cx="260.95" cy="475.52" r="2.2"/><circle cx="263.78" cy="477.25" r="2.2"/><circle cx="266.6" cy="478.98" r="2.2"/><circle cx="269.43" cy="480.72" r="2.2"/><circle cx="272.25" cy="482.45" r="2.2"/><circle cx="275.08" cy="484.18" r="2.2"/><circle cx="277.9" cy="485.91" r="2.2"/><circle cx="280.73" cy="487.64" r="2.2"/><circle cx="283.55" cy="489.37" r="2.2"/><circle cx="286.38" cy="491.1" r="2.2"/><circle cx="289.2" cy="492.83" r="2.2"/><circle cx="292.03" cy="494.56" r="2.2"/><circle cx="294.85" cy="496.29" r="2.2"/><circle cx="297.68" cy="498.02" r="2.2"/><circle cx="300.5" cy="499.75" r="2.2"/><circle cx="303.33" cy="501.48" r="2.2"/><circle cx="306.15" cy="503.22" r="2.2"/><circle cx="308.98" cy="504.95" r="2.2"/><circle cx="311.8" cy="506.68" r="2.2"/><circle cx="314.63" cy="508.41" r="2.2"/><circle cx="317.45" cy="510.14" r="2.2"/><circle cx="320.28" cy="511.87" r="2.2"/><circle cx="323.1" cy="513.6" r="2.2"/></g></g>
<g><text x="377.5" y="379.4" font-size="12.5" fill="#000">AUC for Each TWL Percentile at 1 Year</text><line x1="374.7" y1="514.1" x2="377.6" y2="514.1" stroke="#333333" stroke-width="0.9"/><text x="372.5" y="517.6" font-size="8.7" fill="#4d4d4d" text-anchor="end">0.5</text><line x1="374.7" y1="482.3" x2="377.6" y2="482.3" stroke="#333333" stroke-width="0.9"/><text x="372.5" y="485.8" font-size="8.7" fill="#4d4d4d" text-anchor="end">0.6</text><line x1="374.7" y1="450.5" x2="377.6" y2="450.5" stroke="#333333" stroke-width="0.9"/><text x="372.5" y="454" font-size="8.7" fill="#4d4d4d" text-anchor="end">0.7</text><line x1="374.7" y1="418.7" x2="377.6" y2="418.7" stroke="#333333" stroke-width="0.9"/><text x="372.5" y="422.2" font-size="8.7" fill="#4d4d4d" text-anchor="end">0.8</text><line x1="388.3" y1="519.4" x2="388.3" y2="522.3" stroke="#333333" stroke-width="0.9"/><text x="388.3" y="531.1" font-size="8.7" fill="#4d4d4d" text-anchor="middle">0</text><line x1="458.95" y1="519.4" x2="458.95" y2="522.3" stroke="#333333" stroke-width="0.9"/><text x="458.95" y="531.1" font-size="8.7" fill="#4d4d4d" text-anchor="middle">25</text><line x1="529.6" y1="519.4" x2="529.6" y2="522.3" stroke="#333333" stroke-width="0.9"/><text x="529.6" y="531.1" font-size="8.7" fill="#4d4d4d" text-anchor="middle">50</text><line x1="600.25" y1="519.4" x2="600.25" y2="522.3" stroke="#333333" stroke-width="0.9"/><text x="600.25" y="531.1" font-size="8.7" fill="#4d4d4d" text-anchor="middle">75</text><line x1="670.9" y1="519.4" x2="670.9" y2="522.3" stroke="#333333" stroke-width="0.9"/><text x="670.9" y="531.1" font-size="8.7" fill="#4d4d4d" text-anchor="middle">100</text><path d="M377.6 387.6V519.4H685.5" fill="none" stroke="#000" stroke-width="1.05" stroke-linejoin="miter" stroke-linecap="butt"/><text x="531.55" y="542.7" font-size="10.6" fill="#000" text-anchor="middle">Percentile Threshold</text><text transform="translate(355.8 453.5) rotate(-90)" font-size="10.6" fill="#000" text-anchor="middle">AUC</text><rect x="439.12" y="387.6" width="22.7" height="11.6" rx="1.3" ry="1.3" fill="#fff" stroke="#333" stroke-width="0.7"/><text transform="translate(450.47 396.8) scale(1 1.08)" font-size="8.7" fill="#000" text-anchor="middle">22%</text><path d="M391.13 504.1 L393.95 493.9 L396.78 484.1 L399.6 477 L402.43 469.7 L405.26 456.8 L408.08 452.5 L410.91 445.3 L413.73 444 L416.56 436.7 L419.39 426.7 L422.21 429 L425.04 424.9 L427.86 420.6 L430.69 419.3 L433.52 412.5 L436.34 407.7 L439.17 410.3 L441.99 409 L444.82 407.7 L447.65 409.7 L450.47 395.5 L453.3 398 L456.12 400 L458.95 401.9 L461.78 400.8 L464.6 396.7 L467.43 398.9 L470.25 397.2 L473.08 399.8 L475.91 397.9 L478.73 400.5 L481.56 398.2 L484.38 400.5 L487.21 402.8 L490.04 404.6 L492.86 406.9 L495.69 408.9 L498.51 406.3 L501.34 408.5 L504.17 410.5 L506.99 412.3 L509.82 414.4 L512.64 416.6 L515.47 418.8 L518.3 420.7 L521.12 421.8 L523.95 423.8 L526.77 426.2 L529.6 420.8 L532.43 422.6 L535.25 425.1 L538.08 426.8 L540.9 428.7 L543.73 430 L546.56 432.3 L549.38 433.5 L552.21 434.6 L555.03 438.3 L557.86 440.14 L560.69 441.97 L563.51 443.81 L566.34 445.65 L569.16 447.48 L571.99 449.32 L574.82 451.16 L577.64 452.99 L580.47 454.83 L583.29 456.67 L586.12 458.5 L588.95 460.34 L591.77 462.18 L594.6 464.01 L597.42 465.85 L600.25 467.69 L603.08 469.52 L605.9 471.36 L608.73 473.2 L611.55 475.03 L614.38 476.87 L617.21 478.7 L620.03 480.54 L622.86 482.38 L625.68 484.21 L628.51 486.05 L631.34 487.89 L634.16 489.72 L636.99 491.56 L639.81 493.4 L642.64 495.23 L645.47 497.07 L648.29 498.91 L651.12 500.74 L653.94 502.58 L656.77 504.42 L659.6 506.25 L662.42 508.09 L665.25 509.93 L668.07 511.76 L670.9 513.6" fill="none" stroke="#000" stroke-width="1.1" stroke-linejoin="round"/><g fill="#000"><circle cx="391.13" cy="504.1" r="2.2"/><circle cx="393.95" cy="493.9" r="2.2"/><circle cx="396.78" cy="484.1" r="2.2"/><circle cx="399.6" cy="477" r="2.2"/><circle cx="402.43" cy="469.7" r="2.2"/><circle cx="405.26" cy="456.8" r="2.2"/><circle cx="408.08" cy="452.5" r="2.2"/><circle cx="410.91" cy="445.3" r="2.2"/><circle cx="413.73" cy="444" r="2.2"/><circle cx="416.56" cy="436.7" r="2.2"/><circle cx="419.39" cy="426.7" r="2.2"/><circle cx="422.21" cy="429" r="2.2"/><circle cx="425.04" cy="424.9" r="2.2"/><circle cx="427.86" cy="420.6" r="2.2"/><circle cx="430.69" cy="419.3" r="2.2"/><circle cx="433.52" cy="412.5" r="2.2"/><circle cx="436.34" cy="407.7" r="2.2"/><circle cx="439.17" cy="410.3" r="2.2"/><circle cx="441.99" cy="409" r="2.2"/><circle cx="444.82" cy="407.7" r="2.2"/><circle cx="447.65" cy="409.7" r="2.2"/><circle cx="450.47" cy="395.5" r="2.2"/><circle cx="453.3" cy="398" r="2.2"/><circle cx="456.12" cy="400" r="2.2"/><circle cx="458.95" cy="401.9" r="2.2"/><circle cx="461.78" cy="400.8" r="2.2"/><circle cx="464.6" cy="396.7" r="2.2"/><circle cx="467.43" cy="398.9" r="2.2"/><circle cx="470.25" cy="397.2" r="2.2"/><circle cx="473.08" cy="399.8" r="2.2"/><circle cx="475.91" cy="397.9" r="2.2"/><circle cx="478.73" cy="400.5" r="2.2"/><circle cx="481.56" cy="398.2" r="2.2"/><circle cx="484.38" cy="400.5" r="2.2"/><circle cx="487.21" cy="402.8" r="2.2"/><circle cx="490.04" cy="404.6" r="2.2"/><circle cx="492.86" cy="406.9" r="2.2"/><circle cx="495.69" cy="408.9" r="2.2"/><circle cx="498.51" cy="406.3" r="2.2"/><circle cx="501.34" cy="408.5" r="2.2"/><circle cx="504.17" cy="410.5" r="2.2"/><circle cx="506.99" cy="412.3" r="2.2"/><circle cx="509.82" cy="414.4" r="2.2"/><circle cx="512.64" cy="416.6" r="2.2"/><circle cx="515.47" cy="418.8" r="2.2"/><circle cx="518.3" cy="420.7" r="2.2"/><circle cx="521.12" cy="421.8" r="2.2"/><circle cx="523.95" cy="423.8" r="2.2"/><circle cx="526.77" cy="426.2" r="2.2"/><circle cx="529.6" cy="420.8" r="2.2"/><circle cx="532.43" cy="422.6" r="2.2"/><circle cx="535.25" cy="425.1" r="2.2"/><circle cx="538.08" cy="426.8" r="2.2"/><circle cx="540.9" cy="428.7" r="2.2"/><circle cx="543.73" cy="430" r="2.2"/><circle cx="546.56" cy="432.3" r="2.2"/><circle cx="549.38" cy="433.5" r="2.2"/><circle cx="552.21" cy="434.6" r="2.2"/><circle cx="555.03" cy="438.3" r="2.2"/><circle cx="557.86" cy="440.14" r="2.2"/><circle cx="560.69" cy="441.97" r="2.2"/><circle cx="563.51" cy="443.81" r="2.2"/><circle cx="566.34" cy="445.65" r="2.2"/><circle cx="569.16" cy="447.48" r="2.2"/><circle cx="571.99" cy="449.32" r="2.2"/><circle cx="574.82" cy="451.16" r="2.2"/><circle cx="577.64" cy="452.99" r="2.2"/><circle cx="580.47" cy="454.83" r="2.2"/><circle cx="583.29" cy="456.67" r="2.2"/><circle cx="586.12" cy="458.5" r="2.2"/><circle cx="588.95" cy="460.34" r="2.2"/><circle cx="591.77" cy="462.18" r="2.2"/><circle cx="594.6" cy="464.01" r="2.2"/><circle cx="597.42" cy="465.85" r="2.2"/><circle cx="600.25" cy="467.69" r="2.2"/><circle cx="603.08" cy="469.52" r="2.2"/><circle cx="605.9" cy="471.36" r="2.2"/><circle cx="608.73" cy="473.2" r="2.2"/><circle cx="611.55" cy="475.03" r="2.2"/><circle cx="614.38" cy="476.87" r="2.2"/><circle cx="617.21" cy="478.7" r="2.2"/><circle cx="620.03" cy="480.54" r="2.2"/><circle cx="622.86" cy="482.38" r="2.2"/><circle cx="625.68" cy="484.21" r="2.2"/><circle cx="628.51" cy="486.05" r="2.2"/><circle cx="631.34" cy="487.89" r="2.2"/><circle cx="634.16" cy="489.72" r="2.2"/><circle cx="636.99" cy="491.56" r="2.2"/><circle cx="639.81" cy="493.4" r="2.2"/><circle cx="642.64" cy="495.23" r="2.2"/><circle cx="645.47" cy="497.07" r="2.2"/><circle cx="648.29" cy="498.91" r="2.2"/><circle cx="651.12" cy="500.74" r="2.2"/><circle cx="653.94" cy="502.58" r="2.2"/><circle cx="656.77" cy="504.42" r="2.2"/><circle cx="659.6" cy="506.25" r="2.2"/><circle cx="662.42" cy="508.09" r="2.2"/><circle cx="665.25" cy="509.93" r="2.2"/><circle cx="668.07" cy="511.76" r="2.2"/><circle cx="670.9" cy="513.6" r="2.2"/></g></g>
</svg>
</body></html>
